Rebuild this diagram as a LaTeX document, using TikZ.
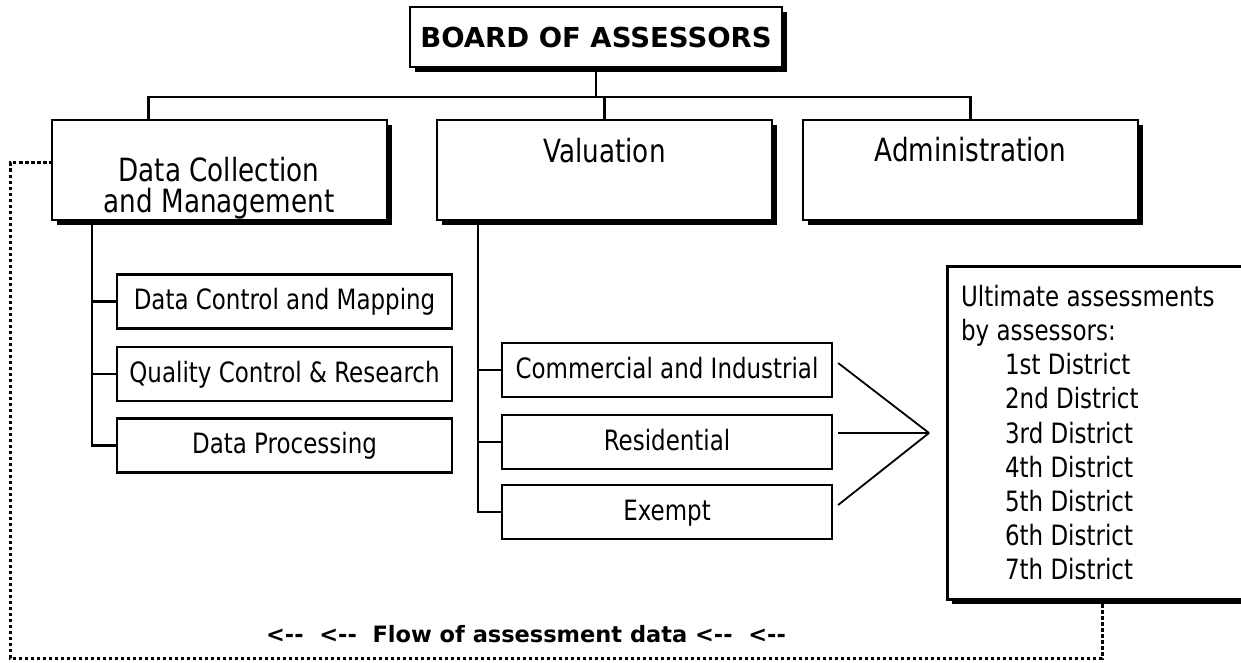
\documentclass[tikz,border=0pt]{standalone}
\usepackage{fontspec}
\setmainfont{DejaVu Sans}[FakeStretch=0.82]
\newfontfamily\headfont{DejaVu Sans}
\usetikzlibrary{shadows}
\newcommand{\unitfont}{\fontsize{32}{31}\selectfont}
\newcommand{\taskfont}{\fontsize{28}{34.2}\selectfont}
\tikzset{
	unit/.style={draw, line width=2.6pt, fill=white, minimum width=335pt, minimum height=100pt, inner sep=0pt,
		drop shadow={shadow xshift=5pt, shadow yshift=-5pt, fill=black, opacity=1}},
	task/.style={draw, line width=2.2pt, fill=white, minimum height=54pt, inner sep=0pt,
		text height=21pt, text depth=5pt, font=\taskfont},
	unitlabel/.style={inner sep=0pt, font=\unitfont, align=center},
	flowline/.style={line width=3pt, dash pattern=on 3.5pt off 2.5pt},
}
\begin{document}
\begin{tikzpicture}[x=1pt, y=-1pt, line width=2.2pt]
	\useasboundingbox (0,0) rectangle (1241,663);
	% board and the three units
	\node[unit, minimum width=372pt, minimum height=60pt, font={\headfont\bfseries\fontsize{27.5}{30}\selectfont}] (board) at (596,37) {BOARD OF ASSESSORS};
	\node[unit] (dcm) at (219.5,170) {};
	\node[unit] (val) at (604.5,170) {};
	\node[unit] (admin) at (970.5,170) {};
	\node[unitlabel, anchor=north] (dcm-txt) at (219,156) {Data Collection\\and Management};
	\node[unitlabel, anchor=base] (val-txt) at (604.5,163) {Valuation};
	\node[unitlabel, anchor=base] (admin-txt) at (970.5,162) {Administration};
	\coordinate (bus) at (0,97);
	\draw (board.south) -- (board.south |- bus);
	\draw ([xshift=-71pt]dcm.north) |- (bus -| admin.north) -- (admin.north);
	\draw (val.north) -- (val.north |- bus);
	% sections
	\node[task, minimum width=335pt] (dcmap) at (284.5,301.5) {Data Control and Mapping};
	\node[task, minimum width=335pt] (qcr) at (284.5,374) {Quality Control \& Research};
	\node[task, minimum width=335pt] (dproc) at (284.5,445.5) {Data Processing};
	\node[task, minimum width=330pt] (comm) at (667,370) {Commercial and Industrial};
	\node[task, minimum width=330pt] (resi) at (667,442) {Residential};
	\node[task, minimum width=330pt] (exem) at (667,512) {Exempt};
	\coordinate (lspine) at (92,220);
	\coordinate (vspine) at (478,220);
	\draw (lspine) |- (dproc.west);
	\draw (dcmap.west) -- (dcmap.west -| lspine);
	\draw (qcr.west) -- (qcr.west -| lspine);
	\draw (vspine) |- (exem.west);
	\draw (comm.west) -- (comm.west -| vspine);
	\draw (resi.west) -- (resi.west -| vspine);
	% districts
	\node[draw, line width=2.6pt, fill=white, anchor=north west, minimum width=300pt, minimum height=333pt,
		drop shadow={shadow xshift=5pt, shadow yshift=-5pt, fill=black, opacity=1}] (ult) at (946,265) {};
	\node[anchor=north west, inner sep=0pt, align=left, font=\taskfont] (ult-txt) at (960,284)
		{Ultimate assessments\\by assessors:\\\hspace*{44pt}1st District\\\hspace*{44pt}2nd District\\
		\hspace*{44pt}3rd District\\\hspace*{44pt}4th District\\\hspace*{44pt}5th District\\
		\hspace*{44pt}6th District\\\hspace*{44pt}7th District};
	\coordinate (conv) at (929,433);
	\draw[line width=1.8pt] ([xshift=5pt,yshift=7pt]comm.east) -- (conv);
	\draw[line width=1.8pt] ([xshift=5pt,yshift=9pt]resi.east) -- (conv);
	\draw[line width=1.8pt] ([xshift=5pt,yshift=7pt]exem.east) -- (conv);
	% feedback loop
	\coordinate (ultdrop) at (1102,604);
	\coordinate (loopbr) at (1102,658);
	\coordinate (loopbl) at (10,658);
	\coordinate (looptl) at (10,163);
	\draw[flowline] (ultdrop) -- (loopbr) -- (loopbl) -- (looptl) -- ([yshift=7pt]dcm.west);
	\node[anchor=base, font={\headfont\bfseries\fontsize{22.5}{26}\selectfont}] (flow) at (526,642)
		{<-{}- \ <-{}- \ Flow of assessment data <-{}- \ <-{}-};
\end{tikzpicture}
\end{document}
